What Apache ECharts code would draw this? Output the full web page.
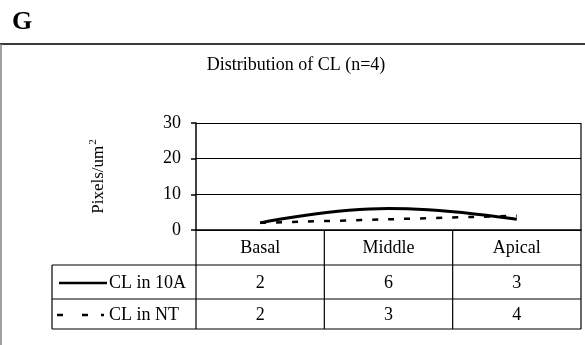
<!DOCTYPE html>
<html>
<head>
<meta charset="utf-8">
<script src="https://cdn.jsdelivr.net/npm/echarts@6/dist/echarts.min.js"></script>
<style>
  html, body { margin: 0; padding: 0; background: #fff; }
  #chart { width: 585px; height: 345px; }
</style>
</head>
<body>
<div id="chart"></div>
<script>
// Regions along the sample and measured CL density per region
const categories = ['Basal', 'Middle', 'Apical'];
const seriesNames = ['CL in 10A', 'CL in NT'];
const cl10A = [2, 6, 3];
const clNT = [2, 3, 4];
const yTicks = [0, 10, 20, 30];

const FONT = '"Liberation Serif", "Times New Roman", serif';
const chart = echarts.init(document.getElementById('chart'), null, { renderer: 'canvas' });

// Plot box and data-table geometry
const G = { left: 196, right: 581, top: 123, zero: 230 };
const rows = [230, 265, 299, 329];
const legendLeft = 52;

const option = {
  animation: false,
  backgroundColor: '#fff',
  grid: { left: G.left, right: 585 - G.right, top: G.top, bottom: 345 - G.zero, containLabel: false },
  xAxis: {
    type: 'category',
    data: categories,
    boundaryGap: true,
    axisLine: { show: true, lineStyle: { color: '#000', width: 1.5 } },
    axisTick: { show: false },
    axisLabel: { show: false },
    splitLine: { show: false }
  },
  yAxis: {
    type: 'value',
    min: yTicks[0],
    max: yTicks[yTicks.length - 1],
    interval: 10,
    name: 'Pixels/um{sup|2}',
    nameLocation: 'middle',
    nameGap: 87,
    nameRotate: 90,
    nameTextStyle: {
      fontFamily: FONT, fontSize: 17, color: '#000',
      rich: { sup: { fontFamily: FONT, fontSize: 11, color: '#000', verticalAlign: 'top', padding: [0, 0, 10, 1] } }
    },
    axisLine: { show: true, lineStyle: { color: '#000', width: 1.5 } },
    axisTick: { show: true, length: 5, inside: false, lineStyle: { color: '#000', width: 1.5 } },
    axisLabel: { fontFamily: FONT, fontSize: 18, color: '#000', margin: 15 },
    splitLine: { show: true, lineStyle: { color: '#000', width: 1.2 } }
  },
  series: [
    {
      name: seriesNames[0],
      type: 'line',
      data: cl10A,
      smooth: 0.45,
      showSymbol: false,
      lineStyle: { color: '#000', width: 3 },
      z: 3
    },
    {
      name: seriesNames[1],
      type: 'line',
      data: clNT,
      smooth: 0.45,
      showSymbol: false,
      lineStyle: { color: '#000', width: 2.5, type: [6, 10], cap: 'butt' },
      z: 2
    }
  ]
};
chart.setOption(option);

// Frame, heading and the data table underneath the plot
const els = [];
const line = (x1, y1, x2, y2, color, w) => els.push({
  type: 'line', silent: true, z: 10,
  shape: { x1, y1, x2, y2 },
  style: { stroke: color || '#000', lineWidth: w || 1.2 }
});
const text = (x, y, t, opts) => els.push(Object.assign({
  type: 'text', silent: true, z: 11, x, y,
  style: Object.assign({ text: t, fontFamily: FONT, fontSize: 18, fill: '#000', align: 'center', verticalAlign: 'middle' }, opts || {})
}));

// Panel letter and panel frame
text(12, 22, 'G', { align: 'left', fontSize: 26, fontWeight: 600 });
line(0, 44, 585, 44, '#3a3a3a', 2);
line(1, 44, 1, 345, '#808080', 1.5);

// Chart title
text(296, 65, 'Distribution of CL (n=4)', { fontSize: 18 });

// Right border of the plot box through the table
line(G.right, G.top, G.right, rows[3]);

// Column boundaries and centres from the category axis
const band = (G.right - G.left) / categories.length;
const colEdge = i => G.left + band * i;
line(G.left, rows[0], G.left, rows[3]);
for (let i = 1; i < categories.length; i++) line(colEdge(i), rows[0], colEdge(i), rows[3]);

// Row lines
line(legendLeft, rows[1], G.right, rows[1]);
line(legendLeft, rows[2], G.right, rows[2]);
line(legendLeft, rows[3], G.right, rows[3]);
line(legendLeft, rows[1], legendLeft, rows[3]);

// Header row
categories.forEach((c) => {
  const cx = chart.convertToPixel({ xAxisIndex: 0 }, c);
  text(cx, (rows[0] + rows[1]) / 2 + 1, c);
});

// Series rows with legend keys
const tableSeries = [cl10A, clNT];
tableSeries.forEach((vals, r) => {
  const cy = (rows[r + 1] + rows[r + 2]) / 2 + 1;
  if (r === 0) {
    line(59, cy, 107, cy, '#000', 2.5);
  } else {
    line(57, cy, 63, cy, '#000', 2.5);
    line(82, cy, 88, cy, '#000', 2.5);
    line(101, cy, 104, cy, '#000', 2.5);
  }
  text(109, cy, seriesNames[r], { align: 'left' });
  vals.forEach((v, i) => {
    const cx = chart.convertToPixel({ xAxisIndex: 0 }, categories[i]);
    text(cx, cy, String(v));
  });
});

chart.setOption({ graphic: { elements: els } });
</script>
</body>
</html>
